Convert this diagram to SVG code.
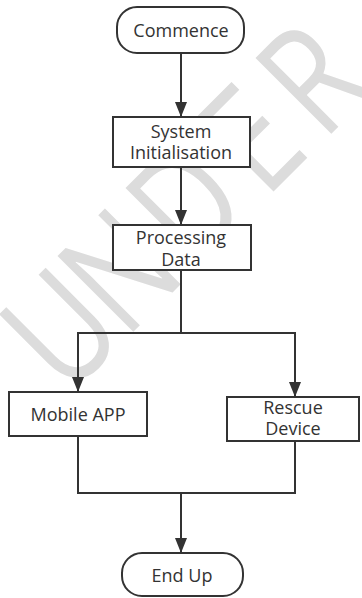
<svg xmlns="http://www.w3.org/2000/svg" width="362" height="598" viewBox="0 0 362 598">
<style>
.wm{font-family:"Open Sans","Noto Sans",sans-serif;font-size:150px;fill:#dcdcdc}
.box{fill:#fff;stroke:#333;stroke-width:2}
.lbl{font-family:"Open Sans","Noto Sans","Liberation Sans",sans-serif;font-size:18px;fill:#333;text-anchor:middle}
.con{fill:none;stroke:#333;stroke-width:2}
</style>
<defs>
<marker id="arr" markerUnits="userSpaceOnUse" markerWidth="15" markerHeight="12" refX="15" refY="6" orient="auto">
<path d="M0,0 L15,6 L0,12 z" fill="#333"/>
</marker>
</defs>
<rect width="362" height="598" fill="#fff"/>
<text class="wm" transform="translate(232.5,232.5) rotate(-45) scale(0.8,1)"><tspan x="-292">U</tspan><tspan x="-190">N</tspan><tspan x="-70">D</tspan><tspan x="58">E</tspan><tspan x="160">R</tspan></text>
<g id="connectors">
<path class="con" d="M181,53 V117" marker-end="url(#arr)"/>
<path class="con" d="M181,167 V225" marker-end="url(#arr)"/>
<path class="con" d="M181,270 V333 H78 V392" marker-end="url(#arr)"/>
<path class="con" d="M181,333 H295 V397" marker-end="url(#arr)"/>
<path class="con" d="M78,436 V493 H295 V441"/>
<path class="con" d="M181,493 V553" marker-end="url(#arr)"/>
</g>
<g id="commence">
<rect class="box" x="117" y="7" width="127" height="46" rx="20"/>
<text class="lbl" x="181" y="37">Commence</text>
</g>
<g id="system">
<rect class="box" x="113" y="117" width="137" height="50"/>
<text class="lbl" x="181" y="138">System</text>
<text class="lbl" x="181" y="159">Initialisation</text>
</g>
<g id="processing">
<rect class="box" x="113" y="225" width="138" height="45"/>
<text class="lbl" x="181" y="244">Processing</text>
<text class="lbl" x="181" y="266">Data</text>
</g>
<g id="mobile">
<rect class="box" x="9" y="392" width="138" height="44"/>
<text class="lbl" x="78" y="421">Mobile APP</text>
</g>
<g id="rescue">
<rect class="box" x="227" y="397" width="132" height="44"/>
<text class="lbl" x="293" y="414">Rescue</text>
<text class="lbl" x="293" y="435">Device</text>
</g>
<g id="endup">
<rect class="box" x="122" y="553" width="121" height="43" rx="20"/>
<text class="lbl" x="182" y="582">End Up</text>
</g>
</svg>
